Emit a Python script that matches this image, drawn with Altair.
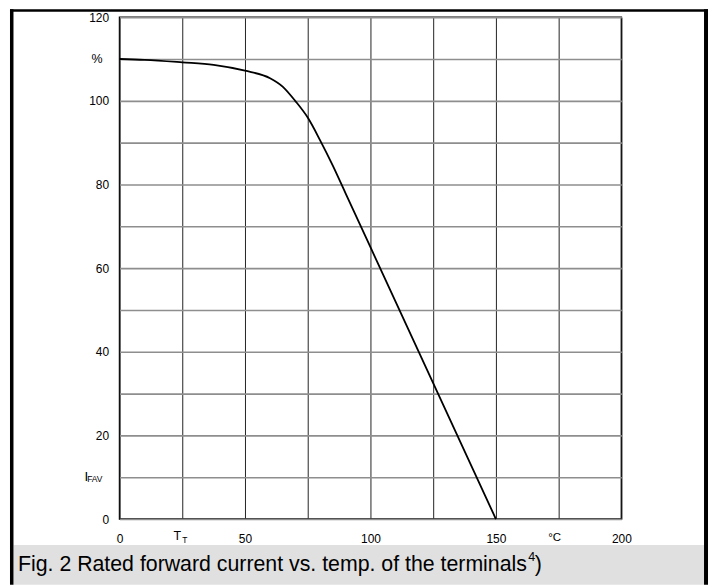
import altair as alt
import pandas as pd

# ---- data ----
temp_c = [0, 10, 25, 37.5, 50, 60, 65, 70, 75, 80, 85, 90, 100, 125, 150]
current_pct = [110, 109.8, 109.2, 108.6, 107.2, 105.4, 103.4, 100.0, 96.0, 90.5, 84.5, 78.0, 65.0, 32.5, 0]

x_grid_values = [0, 25, 50, 75, 100, 125, 150, 175, 200]
x_label_values = [0, 50, 100, 150, 200]
y_grid_values = [0, 10, 20, 30, 40, 50, 60, 70, 80, 90, 100, 110, 120]
y_label_values = [0, 20, 40, 60, 80, 100, 120]

x_sym_pos = [25]          # T_T
x_unit_pos = [175]        # °C
y_unit_pos = [110]        # %
y_sym_pos = [10]          # I_FAV

caption_main = "Fig. 2 Rated forward current vs. temp. of the terminals"
caption_sup = "4"
caption_end = ")"

FONT = "Liberation Sans"

df = pd.DataFrame({"temp": temp_c, "current": current_pct})


def expr_in(vals):
    return "indexof([" + ",".join(str(v) for v in vals) + "], datum.value) >= 0 ? datum.label : ''"


x_axis = alt.Axis(values=x_grid_values, grid=True, gridColor="#222", gridWidth=1,
                  ticks=False, domain=False, title=None, labelExpr=expr_in(x_label_values),
                  labelFontSize=12, labelFont=FONT, labelColor="#000", labelPadding=15,
                  labelFlush=False, labelOverlap=False)
y_axis = alt.Axis(values=y_grid_values, grid=True, gridColor="#8e8e8e", gridWidth=1.6,
                  ticks=False, domain=False, title=None, labelExpr=expr_in(y_label_values),
                  labelFontSize=12, labelFont=FONT, labelColor="#000", labelPadding=11,
                  labelFlush=False, labelOverlap=False)
x_scale = alt.Scale(domain=[0, 200], nice=False)
y_scale = alt.Scale(domain=[0, 120], nice=False)

line = alt.Chart(df).mark_line(color="black", strokeWidth=1.8, interpolate="monotone").encode(
    x=alt.X("temp:Q", scale=x_scale, axis=x_axis),
    y=alt.Y("current:Q", scale=y_scale, axis=y_axis),
)

one = pd.DataFrame({"k": [0]})

# x special labels
t_main = alt.Chart(pd.DataFrame({"temp": x_sym_pos})).mark_text(
    text="T", fontSize=12.5, font=FONT, color="#000", align="center", baseline="alphabetic", dx=-5
).encode(x=alt.X("temp:Q", scale=x_scale, axis=x_axis), y=alt.value(525))
t_sub = alt.Chart(pd.DataFrame({"temp": x_sym_pos})).mark_text(
    text="T", fontSize=8.5, font=FONT, color="#000", align="left", baseline="alphabetic", dx=0
).encode(x=alt.X("temp:Q", scale=x_scale, axis=x_axis), y=alt.value(528))
deg = alt.Chart(pd.DataFrame({"temp": x_unit_pos})).mark_text(
    text="°C", fontSize=11.5, font=FONT, color="#000", align="center", baseline="alphabetic", dx=-4
).encode(x=alt.X("temp:Q", scale=x_scale, axis=x_axis), y=alt.value(526))

# y special labels
pct = alt.Chart(pd.DataFrame({"current": y_unit_pos})).mark_text(
    text="%", fontSize=12.5, font=FONT, color="#000", align="center", baseline="middle"
).encode(x=alt.value(-22.5), y=alt.Y("current:Q", scale=y_scale, axis=y_axis))
i_main = alt.Chart(pd.DataFrame({"current": y_sym_pos})).mark_text(
    text="I", fontSize=13.5, font=FONT, color="#000", align="right", baseline="alphabetic", dy=4
).encode(x=alt.value(-31.5), y=alt.Y("current:Q", scale=y_scale, axis=y_axis))
i_sub = alt.Chart(pd.DataFrame({"current": y_sym_pos})).mark_text(
    text="FAV", fontSize=8.5, font=FONT, color="#000", align="left", baseline="alphabetic", dy=5
).encode(x=alt.value(-32.5), y=alt.Y("current:Q", scale=y_scale, axis=y_axis))

# outer frame and caption box (decoration outside the plot)
def rect(x1, x2, y1, y2, color):
    return alt.Chart(one).mark_rect(color=color).encode(
        x=alt.value(x1), x2=alt.value(x2), y=alt.value(y1), y2=alt.value(y2))

gray_box = rect(-106.5, 587, 530, 570, "#e0e0e0")
frame_left = rect(-110, -106.5, -8, 570, "#000")
frame_right = rect(587, 591, -8, 570, "#000")
frame_top = rect(-110, 591, -8, -5.5, "#000")

cap1 = alt.Chart(one).mark_text(
    text=caption_main, fontSize=21.4, font=FONT, color="#000", align="left", baseline="alphabetic"
).encode(x=alt.value(-102), y=alt.value(556))
cap2 = alt.Chart(one).mark_text(
    text=caption_sup, fontSize=12.5, font=FONT, color="#000", align="left", baseline="alphabetic"
).encode(x=alt.value(410.5), y=alt.value(546))
cap3 = alt.Chart(one).mark_text(
    text=caption_end, fontSize=21.4, font=FONT, color="#000", align="left", baseline="alphabetic"
).encode(x=alt.value(417), y=alt.value(556))

chart = alt.layer(
    line, gray_box, frame_left, frame_right, frame_top,
    t_main, t_sub, deg, pct, i_main, i_sub, cap1, cap2, cap3
).properties(
    width=504, height=504,
    autosize=alt.AutoSizeParams(type="none"),
    padding={"left": 112, "top": 8, "right": 88, "bottom": 66},
).configure(font=FONT, background="white").configure_view(stroke="#000", strokeWidth=1.5)

chart.save("out.html", embed_options={"renderer": "svg", "actions": False})
